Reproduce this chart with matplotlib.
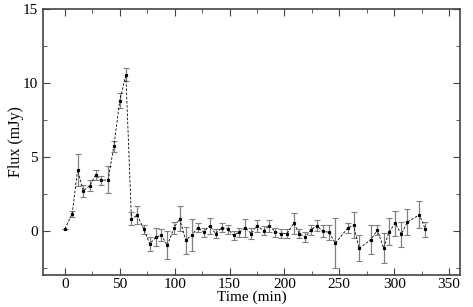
import matplotlib
matplotlib.use("Agg")
import matplotlib.pyplot as plt
from matplotlib.ticker import MultipleLocator

plt.rcParams['font.family'] = ['Liberation Serif', 'DejaVu Serif']

# light curve values
time = [0, 6.6, 11.5, 16.7, 22.7, 27.9, 33.3, 39.4, 44.5, 50, 55.5,
        60.6, 66, 71.8, 77.3, 82.7, 87.9, 93.3, 99.4, 104.5, 110, 115.7,
        121, 126.4, 132, 137.3, 143, 148.5, 153.6, 159, 164.5, 169.7,
        175, 181, 186.4, 191.8, 197, 202.4, 208.5, 213.6, 219, 224,
        229.7, 234.8, 240.5, 246.4, 257.6, 263, 268, 278.8, 284.8,
        290.3, 295.5, 301, 306.5, 312, 323, 328.5]
flux = [0.12, 1.15, 4.1, 2.7, 3.05, 3.76, 3.4, 3.45, 5.7, 8.8, 10.55,
        0.8, 1.05, 0.1, -0.9, -0.45, -0.3, -1.0, 0.2, 0.8, -0.65, -0.3,
        0.2, -0.1, 0.34, -0.2, 0.2, 0.1, -0.3, -0.1, 0.2, -0.2,
        0.34, 0.0, 0.34, -0.1, -0.2, -0.2, 0.5, -0.2, -0.45, 0.05,
        0.34, -0.05, -0.1, -0.85, 0.17, 0.38, -1.2, -0.6, 0.05,
        -1.18, -0.07, 0.5, -0.25, 0.58, 1.08, 0.08]
err = [0.0, 0.2, 1.07, 0.4, 0.35, 0.35, 0.3, 0.92, 0.4, 0.5, 0.45,
       0.45, 0.6, 0.3, 0.45, 0.6, 0.4, 0.95, 0.4, 0.85, 0.9, 1.1,
       0.3, 0.3, 0.55, 0.3, 0.3, 0.3, 0.3, 0.3, 0.6, 0.35,
       0.4, 0.3, 0.4, 0.3, 0.3, 0.3, 0.7, 0.3, 0.35, 0.35,
       0.35, 0.4, 0.5, 1.7, 0.35, 0.9, 0.88, 1.0, 0.35,
       1.0, 0.9, 0.85, 0.85, 0.88, 0.9, 0.53]

fig = plt.figure(figsize=(4.73, 3.07), dpi=100)
ax = fig.add_axes([43 / 473, 32 / 307, 417 / 473, 266 / 307])

ax.errorbar(time, flux, yerr=err, fmt='none', ecolor='#808080',
            elinewidth=0.9, capsize=2, capthick=0.8)
ax.plot(time, flux, color='black', lw=0.6, ls=(0, (3, 2)),
        marker='s', ms=1.3, mfc='black', mec='black')

ax.set_xlim(-20, 360)
ax.set_ylim(-3, 15)
ax.xaxis.set_major_locator(MultipleLocator(50))
ax.xaxis.set_minor_locator(MultipleLocator(25))
ax.yaxis.set_major_locator(MultipleLocator(5))
ax.yaxis.set_minor_locator(MultipleLocator(2.5))
ax.tick_params(which='both', direction='in', top=True, right=True,
               labelsize=11, color='#444444')
ax.tick_params(axis='x', pad=2)
ax.tick_params(which='major', length=5)
ax.tick_params(which='minor', length=3)
for s in ax.spines.values():
    s.set_color('#444444')
    s.set_linewidth(1.2)

ax.set_xlabel('Time (min)', fontsize=11, labelpad=0)
ax.set_ylabel('Flux (mJy)', fontsize=11.5, labelpad=-1)

fig.savefig('out.png', dpi=100)
